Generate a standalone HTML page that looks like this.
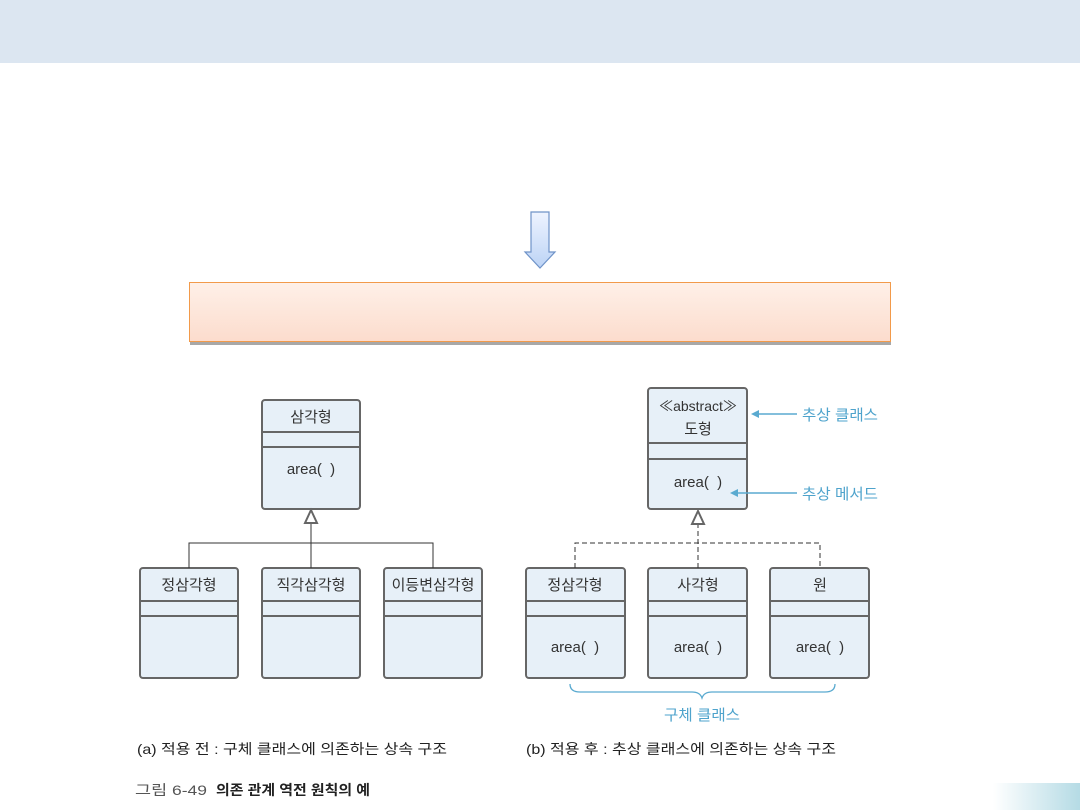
<!DOCTYPE html>
<html><head><meta charset="utf-8"><style>
html,body{margin:0;padding:0;background:#fff;}
svg{display:block;}
text{font-family:"Liberation Sans","Noto Sans CJK KR",sans-serif;}
</style></head><body>
<svg width="1080" height="810" viewBox="0 0 1080 810" xmlns="http://www.w3.org/2000/svg">
<defs>
<linearGradient id="arr" x1="0" y1="0" x2="0" y2="1"><stop offset="0" stop-color="#eef4ff"/><stop offset="1" stop-color="#bcd3f5"/></linearGradient>
<linearGradient id="org" x1="0" y1="0" x2="0" y2="1"><stop offset="0" stop-color="#fef0e8"/><stop offset="1" stop-color="#fcdccd"/></linearGradient>
<linearGradient id="corner" x1="0" y1="0" x2="1" y2="0"><stop offset="0" stop-color="#ffffff"/><stop offset="1" stop-color="#b5dbe5"/></linearGradient>
</defs>
<rect x="0" y="0" width="1080" height="63" fill="#dce6f1"/>
<path d="M531 212 H549 V252 H555 L540 268 L525 252 H531 Z" fill="url(#arr)" stroke="#6f93c8" stroke-width="1.2"/>
<rect x="190" y="342" width="701" height="3" fill="#a8a8a8"/>
<rect x="189.5" y="282.5" width="701" height="59" fill="url(#org)" stroke="#f29a4a" stroke-width="1"/>

<g stroke="#666" stroke-width="2" fill="#e7f0f8">
<rect x="262" y="400" width="98" height="109" rx="3"/>
<line x1="262" y1="432" x2="360" y2="432"/><line x1="262" y1="447" x2="360" y2="447"/>
<rect x="140" y="568" width="98" height="110" rx="3"/>
<line x1="140" y1="601" x2="238" y2="601"/><line x1="140" y1="616" x2="238" y2="616"/>
<rect x="262" y="568" width="98" height="110" rx="3"/>
<line x1="262" y1="601" x2="360" y2="601"/><line x1="262" y1="616" x2="360" y2="616"/>
<rect x="384" y="568" width="98" height="110" rx="3"/>
<line x1="384" y1="601" x2="482" y2="601"/><line x1="384" y1="616" x2="482" y2="616"/>
<rect x="648" y="388" width="99" height="121" rx="3"/>
<line x1="648" y1="443" x2="747" y2="443"/><line x1="648" y1="459" x2="747" y2="459"/>
<rect x="526" y="568" width="99" height="110" rx="3"/>
<line x1="526" y1="601" x2="625" y2="601"/><line x1="526" y1="616" x2="625" y2="616"/>
<rect x="648" y="568" width="99" height="110" rx="3"/>
<line x1="648" y1="601" x2="747" y2="601"/><line x1="648" y1="616" x2="747" y2="616"/>
<rect x="770" y="568" width="99" height="110" rx="3"/>
<line x1="770" y1="601" x2="869" y2="601"/><line x1="770" y1="616" x2="869" y2="616"/>
</g>
<g stroke="#333" stroke-width="1" fill="none">
<path d="M189 568 V543 H433 V568 M311 568 V523"/>
</g>
<path d="M311 510 L317 523 H305 Z" fill="#fff" stroke="#666" stroke-width="2"/>
<g stroke="#333" stroke-width="1" fill="none" stroke-dasharray="5,3">
<path d="M575 568 V543 H820 V568 M698 568 V524"/>
</g>
<path d="M698 511 L704 524 H692 Z" fill="#fff" stroke="#666" stroke-width="2"/>

<g font-size="15" fill="#333" text-anchor="middle">
<text x="311" y="422">삼각형</text>
<text x="311" y="474">area(&#160;&#160;)</text>
<text x="189" y="590">정삼각형</text>
<text x="311" y="590">직각삼각형</text>
<text x="433" y="590">이등변삼각형</text>
<text x="698" y="411" font-size="14">≪abstract≫</text>
<text x="698" y="434">도형</text>
<text x="698" y="487">area(&#160;&#160;)</text>
<text x="575" y="652">area(&#160;&#160;)</text>
<text x="575" y="590">정삼각형</text>
<text x="698" y="590">사각형</text>
<text x="820" y="590">원</text>
<text x="698" y="652">area(&#160;&#160;)</text>
<text x="820" y="652">area(&#160;&#160;)</text>
</g>
<g stroke="#5aaad0" stroke-width="1.5" fill="#5aaad0">
<line x1="797" y1="414" x2="756" y2="414"/><path d="M751 414 L759 410 L759 418 Z" stroke="none"/>
<line x1="797" y1="493" x2="735" y2="493"/><path d="M730 493 L738 489 L738 497 Z" stroke="none"/>
</g>
<path d="M570 684 Q570 692 580 692 H692 Q700 692 702 698 Q704 692 712 692 H825 Q835 692 835 684" fill="none" stroke="#5aaad0" stroke-width="1.3"/>
<g font-size="15" fill="#4ea3cc">
<text x="802" y="420" textLength="76" lengthAdjust="spacingAndGlyphs">추상 클래스</text>
<text x="802" y="499" textLength="76" lengthAdjust="spacingAndGlyphs">추상 메서드</text>
<text x="664" y="720" textLength="76" lengthAdjust="spacingAndGlyphs">구체 클래스</text>
</g>
<g font-size="14" fill="#222">
<text x="137" y="754" textLength="310" lengthAdjust="spacingAndGlyphs">(a) 적용 전 : 구체 클래스에 의존하는 상속 구조</text>
<text x="526" y="754" textLength="310" lengthAdjust="spacingAndGlyphs">(b) 적용 후 : 추상 클래스에 의존하는 상속 구조</text>
<text x="135" y="795" fill="#555" textLength="72" lengthAdjust="spacingAndGlyphs">그림 6-49</text>
<text x="216" y="795" font-weight="bold" textLength="154" lengthAdjust="spacingAndGlyphs">의존 관계 역전 원칙의 예</text>
</g>
<rect x="993" y="783" width="87" height="27" fill="url(#corner)"/>
</svg>
</body></html>
